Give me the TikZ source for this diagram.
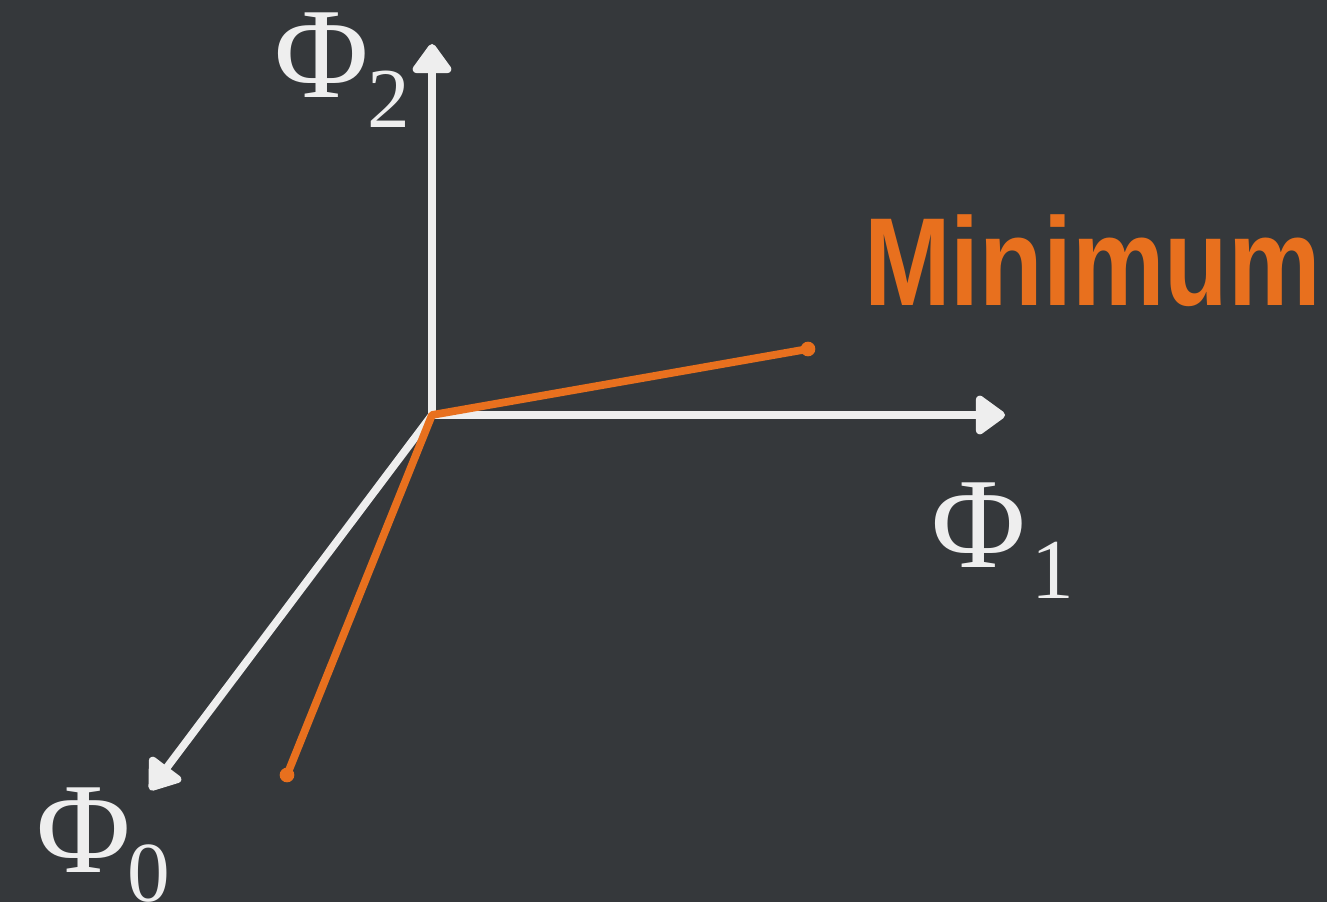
\documentclass[tikz,border=0pt]{standalone}
\usepackage{fontspec}
\setmainfont{Liberation Serif}
\newfontfamily\headfont{Liberation Sans}
\usetikzlibrary{arrows.meta}
\definecolor{bg}{HTML}{35383B}
\definecolor{axiswhite}{HTML}{EEEEEE}
\definecolor{minorange}{HTML}{E8701E}
\tikzset{
  axisline/.style={draw=axiswhite, line width=5.8pt, line cap=round, -{Triangle[length=24pt,width=33pt,round]}},
  minline/.style={draw=minorange, line width=5.8pt, line cap=round, line join=round},
  enddot/.style={circle, fill=minorange, inner sep=0pt, minimum size=11pt},
  philabel/.style={text=axiswhite, inner sep=0pt, anchor=base west, font=\fontsize{97}{97}\selectfont},
  sublabel/.style={text=axiswhite, inner sep=0pt, anchor=base west, font=\fontsize{64}{64}\selectfont},
  headlabel/.style={text=minorange, inner sep=0pt, anchor=base west}
}
\begin{document}
\begin{tikzpicture}[x=0.75pt, y=-0.75pt]
\fill[bg] (0,0) rectangle (1327,902);
\useasboundingbox (0,0) rectangle (1327,902);
\coordinate (O) at (432,415);
\coordinate (T2) at (432,44);
\coordinate (T1) at (1005,415);
\coordinate (T0) at (150,790);
\node[enddot] (M1) at (808,349) {};
\node[enddot] (M0) at (287,775) {};
\draw[axisline] (O) -- (T2);
\draw[axisline] (O) -- (T1);
\draw[axisline] (O) -- (T0);
\draw[minline] (M1.center) -- (O) -- (M0.center);
\node[philabel] (P2) at (274,98) {Φ};
\node[sublabel] (S2) at (367,128) {2};
\node[philabel] (P1) at (931,567) {Φ};
\node[sublabel] (S1) at (1031,598) {1};
\node[philabel] (P0) at (36,872) {Φ};
\node[sublabel] (S0) at (127,901) {0};
\node[headlabel] (MinText) at (864,305) {\scalebox{0.83}[1]{\headfont\bfseries\fontsize{94}{94}\selectfont Minimum}};
\end{tikzpicture}
\end{document}
